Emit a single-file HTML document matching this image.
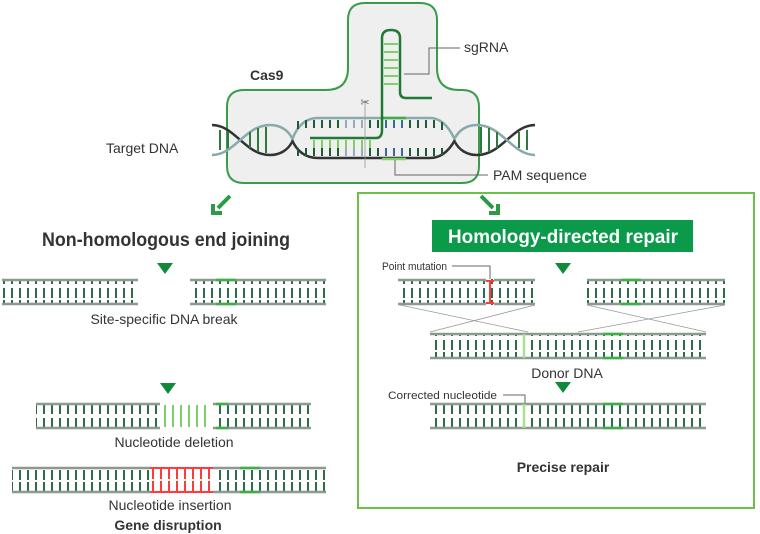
<!DOCTYPE html>
<html><head><meta charset="utf-8"><style>
body{margin:0;background:#fff;}
svg{display:block;font-family:"Liberation Sans",Arial,sans-serif;}
</style></head><body>
<svg width="760" height="534" viewBox="0 0 760 534" xmlns="http://www.w3.org/2000/svg">
<defs>
<pattern id="rung" x="0" y="0" width="8" height="26" patternUnits="userSpaceOnUse">
<rect x="3" y="2" width="2" height="10" fill="#2e6b4a"/>
<rect x="3" y="14" width="2" height="10" fill="#2e6b4a"/>
</pattern>
</defs>
<!-- Cas9 shape -->
<path d="M365,3 H420 Q437,3 437,20 V68 Q437,90 459,90 H462 Q479,90 479,107 V166 Q479,183 462,183 H244 Q227,183 227,166 V107 Q227,90 244,90 H326 Q348,90 348,68 V20 Q348,3 365,3 Z" fill="#efefef" stroke="#3a9c4a" stroke-width="2"/>
<!-- helix left -->
<path d="M212,125 C235,125 245,155 270,155 C280,155 288,150 292,142" fill="none" stroke="#333" stroke-width="2.5"/>
<path d="M212,155 C235,155 245,125 270,125 C280,125 288,130 292,138" fill="none" stroke="#8aa" stroke-width="2.5"/>
<path d="M535,125 C512,125 502,155 477,155 C467,155 459,150 455,142" fill="none" stroke="#333" stroke-width="2.5"/>
<path d="M535,155 C512,155 502,125 477,125 C467,125 459,130 455,138" fill="none" stroke="#8aa" stroke-width="2.5"/>
<g stroke="#2e7a3e" stroke-width="2">
<line x1="220" y1="130" x2="220" y2="150"/><line x1="228" y1="132" x2="228" y2="148"/><line x1="250" y1="132" x2="250" y2="148"/><line x1="258" y1="128" x2="258" y2="152"/><line x1="266" y1="127" x2="266" y2="153"/>
<line x1="527" y1="130" x2="527" y2="150"/><line x1="519" y1="132" x2="519" y2="148"/><line x1="497" y1="132" x2="497" y2="148"/><line x1="489" y1="128" x2="489" y2="152"/><line x1="481" y1="127" x2="481" y2="153"/>
</g>
<!-- bubble -->
<path d="M292,140 Q300,118 318,118 H430 Q445,118 455,140" fill="none" stroke="#8aa" stroke-width="2.5"/>
<path d="M292,140 Q300,158 318,158 H430 Q445,158 455,140" fill="none" stroke="#333" stroke-width="2.5"/>
<g stroke="#1f5a3a" stroke-width="2">
<line x1="298" y1="121" x2="298" y2="129"/><line x1="306" y1="120" x2="306" y2="128"/><line x1="314" y1="120" x2="314" y2="128"/><line x1="322" y1="120" x2="322" y2="128"/><line x1="330" y1="120" x2="330" y2="128"/><line x1="338" y1="120" x2="338" y2="128"/><line x1="346" y1="120" x2="346" y2="128" stroke="#9ab"/><line x1="354" y1="120" x2="354" y2="128" stroke="#9ab"/><line x1="362" y1="120" x2="362" y2="128" stroke="#9ab"/><line x1="370" y1="120" x2="370" y2="128"/><line x1="378" y1="120" x2="378" y2="128"/><line x1="386" y1="120" x2="386" y2="128" stroke="#3a6a9a"/><line x1="394" y1="120" x2="394" y2="128" stroke="#3a6a9a"/><line x1="402" y1="120" x2="402" y2="128" stroke="#3a6a9a"/><line x1="410" y1="120" x2="410" y2="128"/><line x1="418" y1="120" x2="418" y2="128"/><line x1="426" y1="120" x2="426" y2="128"/><line x1="434" y1="120" x2="434" y2="128"/><line x1="442" y1="122" x2="442" y2="130"/>
<line x1="298" y1="148" x2="298" y2="156"/><line x1="306" y1="148" x2="306" y2="156"/><line x1="314" y1="148" x2="314" y2="156"/><line x1="322" y1="148" x2="322" y2="156"/><line x1="330" y1="148" x2="330" y2="156"/><line x1="338" y1="148" x2="338" y2="156"/><line x1="346" y1="148" x2="346" y2="156" stroke="#9ab"/><line x1="354" y1="148" x2="354" y2="156" stroke="#9ab"/><line x1="362" y1="148" x2="362" y2="156" stroke="#9ab"/><line x1="370" y1="148" x2="370" y2="156"/><line x1="378" y1="148" x2="378" y2="156"/><line x1="386" y1="148" x2="386" y2="156" stroke="#3a6a9a"/><line x1="394" y1="148" x2="394" y2="156" stroke="#3a6a9a"/><line x1="402" y1="148" x2="402" y2="156" stroke="#3a6a9a"/><line x1="410" y1="148" x2="410" y2="156"/><line x1="418" y1="148" x2="418" y2="156"/><line x1="426" y1="148" x2="426" y2="156"/><line x1="434" y1="148" x2="434" y2="156"/><line x1="442" y1="148" x2="442" y2="156"/>
</g>
<g stroke="#7fcf6a" stroke-width="2"><line x1="314" y1="140" x2="314" y2="148"/><line x1="322" y1="140" x2="322" y2="148"/><line x1="330" y1="140" x2="330" y2="148"/><line x1="338" y1="140" x2="338" y2="148"/><line x1="346" y1="140" x2="346" y2="148"/><line x1="354" y1="140" x2="354" y2="148"/><line x1="362" y1="140" x2="362" y2="148"/><line x1="370" y1="140" x2="370" y2="148"/></g>
<line x1="382" y1="118" x2="406" y2="118" stroke="#3cb043" stroke-width="2.5"/>
<line x1="382" y1="159" x2="406" y2="159" stroke="#7fcf6a" stroke-width="2.5"/>
<!-- sgRNA -->
<path d="M310,138 H376 Q382,138 382,130 V38 Q382,30 391,30 Q400,30 400,38 V92 Q400,98 406,98 H432" fill="none" stroke="#1e7a34" stroke-width="2.5"/>
<g stroke="#7fcf6a" stroke-width="2"><line x1="384" y1="44" x2="398" y2="44"/><line x1="384" y1="52" x2="398" y2="52"/><line x1="384" y1="60" x2="398" y2="60"/><line x1="384" y1="68" x2="398" y2="68"/><line x1="384" y1="76" x2="398" y2="76"/><line x1="384" y1="84" x2="398" y2="84"/></g>
<line x1="365" y1="100" x2="365" y2="168" stroke="#999" stroke-width="0.8"/>
<text x="365" y="106" font-size="11" text-anchor="middle" fill="#666">✂</text>
<polyline points="404,74 429,74 429,48 460,48" fill="none" stroke="#666" stroke-width="1"/>
<polyline points="395,160 395,175 488,175" fill="none" stroke="#666" stroke-width="1"/>
<text x="250" y="80" font-size="14" font-weight="bold" fill="#333">Cas9</text>
<text x="464" y="52" font-size="14" fill="#333">sgRNA</text>
<text x="106" y="153" font-size="14" fill="#333">Target DNA</text>
<text x="493" y="180" font-size="14" fill="#333">PAM sequence</text>
<!-- arrows -->
<path d="M230,196 L218,208 M213,204 V213 H222" fill="none" stroke="#2e9a46" stroke-width="4"/>
<path d="M481,196 L493,208 M498,204 V213 H489" fill="none" stroke="#2e9a46" stroke-width="4"/>
<text x="42" y="246" font-size="19" font-weight="bold" fill="#333" textLength="248" lengthAdjust="spacingAndGlyphs">Non-homologous end joining</text>
<rect x="358" y="193" width="396" height="315" fill="none" stroke="#6cc04a" stroke-width="2"/>
<rect x="432" y="220" width="261" height="32" fill="#0a9a4a"/>
<text x="448" y="243" font-size="19" font-weight="bold" fill="#fff" textLength="230" lengthAdjust="spacingAndGlyphs">Homology-directed repair</text>
<g fill="#108a3a">
<polygon points="157,263 173,263 165,274"/><polygon points="555,263 571,263 563,274"/>
<polygon points="160,383 176,383 168,394"/><polygon points="555,382 571,382 563,393"/>
</g>
<!-- ladders -->
<g>
<rect x="2" y="279" width="136" height="26" fill="url(#rung)"/>
<rect x="190" y="279" width="136" height="26" fill="url(#rung)"/>
<rect x="36" y="403" width="275" height="26" fill="url(#rung)"/>
<rect x="12" y="467" width="314" height="26" fill="url(#rung)"/>
<rect x="398" y="279" width="137" height="26" fill="url(#rung)"/>
<rect x="587" y="279" width="138" height="26" fill="url(#rung)"/>
<rect x="430" y="333" width="276" height="26" fill="url(#rung)"/>
<rect x="430" y="403" width="276" height="26" fill="url(#rung)"/>
</g>
<rect x="160" y="402" width="55" height="28" fill="#fff"/>
<g stroke="#7fcf6a" stroke-width="2"><line x1="165" y1="405" x2="165" y2="427"/><line x1="173" y1="405" x2="173" y2="427"/><line x1="181" y1="405" x2="181" y2="427"/><line x1="189" y1="405" x2="189" y2="427"/><line x1="197" y1="405" x2="197" y2="427"/><line x1="205" y1="405" x2="205" y2="427"/></g>
<rect x="150" y="466" width="63" height="28" fill="#fff"/>
<g stroke="#ff3a3a" stroke-width="2"><line x1="150" y1="468" x2="213" y2="468"/><line x1="150" y1="492" x2="213" y2="492"/>
<line x1="153" y1="469" x2="153" y2="479"/><line x1="161" y1="469" x2="161" y2="479"/><line x1="169" y1="469" x2="169" y2="479"/><line x1="177" y1="469" x2="177" y2="479"/><line x1="185" y1="469" x2="185" y2="479"/><line x1="193" y1="469" x2="193" y2="479"/><line x1="201" y1="469" x2="201" y2="479"/><line x1="209" y1="469" x2="209" y2="479"/>
<line x1="153" y1="481" x2="153" y2="491"/><line x1="161" y1="481" x2="161" y2="491"/><line x1="169" y1="481" x2="169" y2="491"/><line x1="177" y1="481" x2="177" y2="491"/><line x1="185" y1="481" x2="185" y2="491"/><line x1="193" y1="481" x2="193" y2="491"/><line x1="201" y1="481" x2="201" y2="491"/><line x1="209" y1="481" x2="209" y2="491"/>
<line x1="490" y1="280" x2="490" y2="304"/><line x1="486" y1="281" x2="494" y2="281"/><line x1="486" y1="303" x2="494" y2="303"/></g>
<g stroke="#8a9a8e" stroke-width="2.5">
<line x1="2" y1="280" x2="138" y2="280"/><line x1="2" y1="304" x2="138" y2="304"/>
<line x1="190" y1="280" x2="326" y2="280"/><line x1="190" y1="304" x2="326" y2="304"/>
<line x1="36" y1="404" x2="160" y2="404"/><line x1="36" y1="428" x2="160" y2="428"/>
<line x1="213" y1="404" x2="311" y2="404"/><line x1="213" y1="428" x2="311" y2="428"/>
<line x1="12" y1="468" x2="150" y2="468"/><line x1="12" y1="492" x2="150" y2="492"/>
<line x1="213" y1="468" x2="326" y2="468"/><line x1="213" y1="492" x2="326" y2="492"/>
<line x1="398" y1="280" x2="486" y2="280"/><line x1="494" y1="280" x2="535" y2="280"/><line x1="398" y1="304" x2="486" y2="304"/><line x1="494" y1="304" x2="535" y2="304"/>
<line x1="587" y1="280" x2="725" y2="280"/><line x1="587" y1="304" x2="725" y2="304"/>
<line x1="430" y1="334" x2="706" y2="334"/><line x1="430" y1="358" x2="706" y2="358"/>
<line x1="430" y1="404" x2="706" y2="404"/><line x1="430" y1="428" x2="706" y2="428"/>
</g>
<g stroke="#3cb043" stroke-width="2.5">
<line x1="216" y1="280" x2="236" y2="280"/><line x1="216" y1="304" x2="236" y2="304"/>
<line x1="216" y1="404" x2="228" y2="404"/><line x1="216" y1="428" x2="228" y2="428"/>
<line x1="240" y1="468" x2="260" y2="468"/><line x1="240" y1="492" x2="260" y2="492"/>
<line x1="621" y1="280" x2="641" y2="280"/><line x1="621" y1="304" x2="641" y2="304"/>
<line x1="603" y1="334" x2="623" y2="334"/><line x1="603" y1="358" x2="623" y2="358"/>
<line x1="603" y1="404" x2="623" y2="404"/><line x1="603" y1="428" x2="623" y2="428"/>
</g>
<g stroke="#a8e090" stroke-width="2.5"><line x1="524" y1="334" x2="524" y2="358"/><line x1="524" y1="404" x2="524" y2="428"/></g>
<g stroke="#999" stroke-width="0.8">
<line x1="400" y1="305" x2="528" y2="332"/><line x1="535" y1="305" x2="430" y2="332"/>
<line x1="587" y1="305" x2="706" y2="332"/><line x1="725" y1="305" x2="578" y2="332"/>
</g>
<polyline points="452,266 490,266 490,279" fill="none" stroke="#666" stroke-width="1"/>
<polyline points="503,395 525,395 525,403" fill="none" stroke="#666" stroke-width="1"/>
<g font-size="14" fill="#333" text-anchor="middle">
<text x="164" y="324">Site-specific DNA break</text>
<text x="174" y="447">Nucleotide deletion</text>
<text x="170" y="510">Nucleotide insertion</text>
<text x="168" y="530" font-weight="bold">Gene disruption</text>
<text x="567" y="378">Donor DNA</text>
<text x="563" y="472" font-weight="bold">Precise repair</text>
</g>
<text x="382" y="270" font-size="11" fill="#333" textLength="65" lengthAdjust="spacingAndGlyphs">Point mutation</text>
<text x="388" y="399" font-size="11" fill="#333" textLength="109" lengthAdjust="spacingAndGlyphs">Corrected nucleotide</text>
</svg>
</body></html>
